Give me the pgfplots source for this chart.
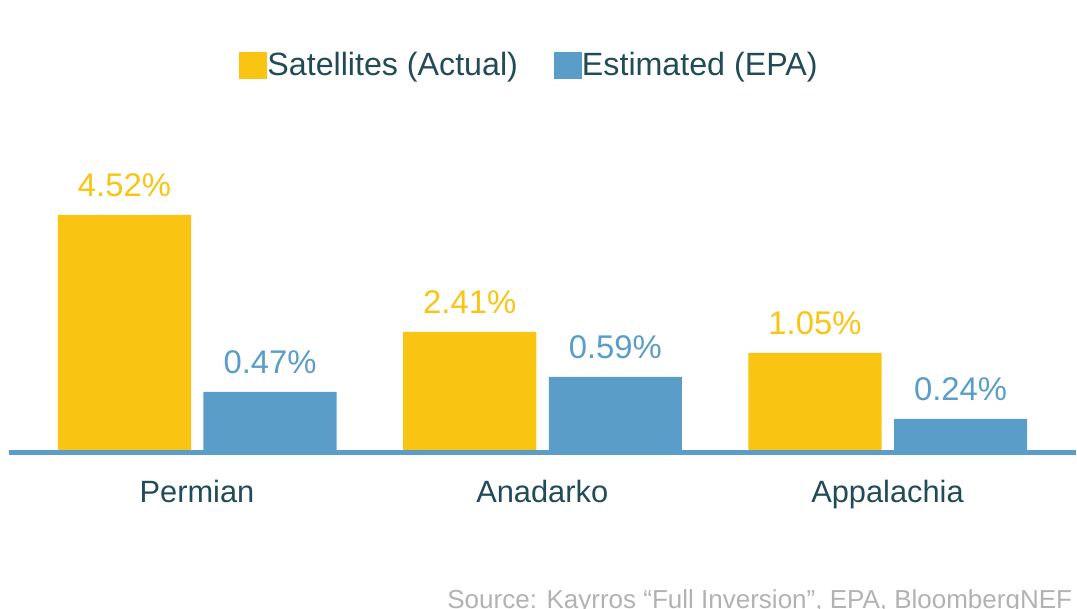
\documentclass[border=0pt]{standalone}
\usepackage{pgfplots}
\pgfplotsset{compat=1.18}
\usepackage{fontspec}
\setmainfont{Liberation Sans}
\definecolor{ylw}{RGB}{249,197,18}
\definecolor{blu}{RGB}{90,157,200}
\definecolor{txt}{RGB}{33,75,87}
\definecolor{src}{RGB}{178,178,178}
\begin{document}
\begin{tikzpicture}
\begin{axis}[
  at={(4.5pt,79pt)}, anchor=south west, scale only axis,
  width=533.5pt, height=165.5pt,
  xmin=-0.5445, xmax=2.546, ymin=0, ymax=331,
  axis line style={draw=none},
  ybar, bar width=0.3855,
  xtick={0,1,2}, xticklabels={Permian,Anadarko,Appalachia},
  major tick length=0pt, ytick=\empty,
  xticklabel style={anchor=base, yshift=-26pt, font=\fontsize{15.4pt}{18pt}\selectfont, text=txt},
  nodes near coords, point meta=explicit symbolic,
  every node near coord/.append style={anchor=base, yshift=9pt, inner sep=0pt, font=\fontsize{16.4pt}{20pt}\selectfont},
  legend style={at={(0.4869,1.1647)}, anchor=center, draw=none, fill=none, legend columns=2,
    inner sep=0pt, font=\fontsize{16.1pt}{19pt}\selectfont, text=txt, nodes={inner sep=0pt}},
  legend image code/.code={\fill[#1] (0pt,-6.75pt) rectangle (14pt,6.75pt);},
  clip=false,
]
\addplot[draw=none, fill=ylw, bar shift=-0.21, every node near coord/.append style={text=ylw}]
  coordinates {(0,236) [4.52\%] (1,119) [2.41\%] (2,98) [1.05\%]};
\addlegendentry{Satellites (Actual)\kern18pt\relax}
\addplot[draw=none, fill=blu, bar shift=0.2116, every node near coord/.append style={text=blu}]
  coordinates {(0,59) [0.47\%] (1,74) [0.59\%] (2,32) [0.24\%]};
\addlegendentry{Estimated (EPA)}
\draw[blu, line width=2.25pt] ([yshift=-0.75pt]rel axis cs:0,0) -- ([yshift=-0.75pt]rel axis cs:1,0);
\end{axis}
\node[anchor=base west, inner sep=0pt, text=src, font=\fontsize{13pt}{15pt}\selectfont] at (223.5pt,0.2pt) {Source: Kayrros “Full Inversion”, EPA, BloombergNEF};
\pgfresetboundingbox
\path[use as bounding box] (0,0) rectangle (538.5pt,304.5pt);
\end{tikzpicture}
\end{document}
